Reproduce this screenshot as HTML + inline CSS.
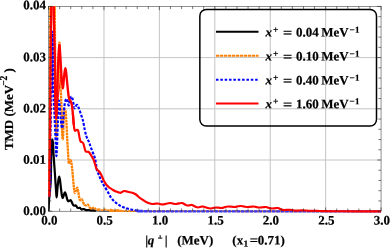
<!DOCTYPE html>
<html><head><meta charset="utf-8"><title>plot</title>
<style>html,body{margin:0;padding:0;background:#fff;}body{width:390px;height:248px;overflow:hidden;position:relative;font-family:"Liberation Serif",serif;}</style></head>
<body>
<svg width="390" height="248" viewBox="0 0 390 248" style="position:absolute;left:0;top:0;will-change:transform;opacity:0.999">
<defs><clipPath id="cp"><rect x="48.30" y="6.20" width="333.00" height="207.10"/></clipPath></defs>
<line x1="103.97" y1="6.40" x2="103.97" y2="211.20" stroke="#c4c4c4" stroke-width="1"/>
<line x1="159.38" y1="6.40" x2="159.38" y2="211.20" stroke="#c4c4c4" stroke-width="1"/>
<line x1="214.80" y1="6.40" x2="214.80" y2="211.20" stroke="#c4c4c4" stroke-width="1"/>
<line x1="270.22" y1="6.40" x2="270.22" y2="211.20" stroke="#c4c4c4" stroke-width="1"/>
<line x1="325.63" y1="6.40" x2="325.63" y2="211.20" stroke="#c4c4c4" stroke-width="1"/>
<line x1="48.55" y1="160.00" x2="381.05" y2="160.00" stroke="#c4c4c4" stroke-width="1"/>
<line x1="48.55" y1="108.80" x2="381.05" y2="108.80" stroke="#c4c4c4" stroke-width="1"/>
<line x1="48.55" y1="57.60" x2="381.05" y2="57.60" stroke="#c4c4c4" stroke-width="1"/>
<rect x="48.55" y="6.40" width="332.50" height="204.80" fill="none" stroke="#222" stroke-width="0.5"/>
<g clip-path="url(#cp)" fill="none" stroke-linejoin="round">
<path d="M48.60 211.00 C48.65 209.67 48.77 205.50 48.90 203.00 C49.03 200.50 49.22 198.17 49.40 196.00 C49.58 193.83 49.80 192.17 50.00 190.00 C50.20 187.83 50.45 185.50 50.60 183.00 C50.75 180.50 50.83 178.00 50.90 175.00 C50.97 172.00 51.00 168.33 51.05 165.00 C51.10 161.67 51.12 158.00 51.20 155.00 C51.28 152.00 51.37 149.25 51.50 147.00 C51.63 144.75 51.85 142.77 52.00 141.50 C52.15 140.23 52.27 139.40 52.40 139.40 C52.53 139.40 52.67 140.23 52.80 141.50 C52.93 142.77 53.07 144.75 53.20 147.00 C53.33 149.25 53.42 152.00 53.60 155.00 C53.78 158.00 54.07 161.67 54.30 165.00 C54.53 168.33 54.77 171.50 55.00 175.00 C55.23 178.50 55.50 183.00 55.70 186.00 C55.90 189.00 56.05 191.12 56.20 193.00 C56.35 194.88 56.45 197.30 56.60 197.30 C56.75 197.30 56.92 194.88 57.10 193.00 C57.28 191.12 57.48 188.17 57.70 186.00 C57.92 183.83 58.15 181.58 58.40 180.00 C58.65 178.42 58.93 176.50 59.20 176.50 C59.47 176.50 59.73 178.25 60.00 180.00 C60.27 181.75 60.50 184.50 60.80 187.00 C61.10 189.50 61.47 193.17 61.80 195.00 C62.13 196.83 62.47 198.00 62.80 198.00 C63.13 198.00 63.43 195.93 63.80 195.00 C64.17 194.07 64.60 192.32 65.00 192.40 C65.40 192.48 65.82 194.32 66.20 195.50 C66.58 196.68 66.95 198.55 67.30 199.50 C67.65 200.45 67.93 200.98 68.30 201.20 C68.67 201.42 69.08 200.95 69.50 200.80 C69.92 200.65 70.33 199.88 70.80 200.30 C71.27 200.72 71.88 202.48 72.30 203.30 C72.72 204.12 72.93 204.80 73.30 205.20 C73.67 205.60 74.08 205.67 74.50 205.70 C74.92 205.73 75.42 205.22 75.80 205.40 C76.18 205.58 76.50 206.38 76.80 206.80 C77.10 207.22 77.28 207.70 77.60 207.90 C77.92 208.10 78.33 208.02 78.70 208.00 C79.07 207.98 79.45 207.67 79.80 207.80 C80.15 207.93 80.50 208.53 80.80 208.80 C81.10 209.07 81.27 209.33 81.60 209.40 C81.93 209.47 82.40 209.25 82.80 209.20 C83.20 209.15 83.55 208.98 84.00 209.10 C84.45 209.22 85.00 209.72 85.50 209.90 C86.00 210.08 86.42 210.18 87.00 210.20 C87.58 210.22 88.33 209.97 89.00 210.00 C89.67 210.03 89.83 210.30 91.00 210.40 C92.17 210.50 95.17 210.57 96.00 210.60" stroke="#000" stroke-width="2.2"/>
<path d="M96.00 210.60 C98.33 210.68 101.00 210.97 110.00 211.10 C119.00 211.22 104.83 211.31 150.00 211.35 C195.17 211.39 342.50 211.35 381.00 211.35" stroke="#000" stroke-width="0.7"/>
<path d="M49.20 196.50 C49.22 193.75 49.25 187.75 49.30 180.00 C49.35 172.25 49.42 161.67 49.50 150.00 C49.58 138.33 49.71 123.33 49.80 110.00 C49.89 96.67 49.98 85.00 50.05 70.00 C50.12 55.00 50.16 38.33 50.20 20.00 C50.24 1.67 49.92 -3.33 50.30 -40.00 C50.68 -76.67 51.76 -200.00 52.50 -200.00 C53.24 -200.00 54.36 -76.67 54.75 -40.00 C55.14 -3.33 54.77 3.33 54.85 20.00 C54.93 36.67 55.08 48.33 55.20 60.00 C55.33 71.67 55.48 81.67 55.60 90.00 C55.72 98.33 55.82 104.17 55.90 110.00 C55.98 115.83 56.02 120.67 56.10 125.00 C56.18 129.33 56.28 136.83 56.40 136.00 C56.52 135.17 56.67 125.17 56.80 120.00 C56.93 114.83 57.07 110.00 57.20 105.00 C57.33 100.00 57.43 95.83 57.60 90.00 C57.77 84.17 58.00 75.83 58.20 70.00 C58.40 64.17 58.60 59.55 58.80 55.00 C59.00 50.45 59.20 41.53 59.40 42.70 C59.60 43.87 59.80 54.95 60.00 62.00 C60.20 69.05 60.43 79.50 60.60 85.00 C60.77 90.50 60.83 90.83 61.00 95.00 C61.17 99.17 61.45 105.00 61.60 110.00 C61.75 115.00 61.80 121.00 61.90 125.00 C62.00 129.00 62.07 131.57 62.20 134.00 C62.33 136.43 62.53 139.60 62.70 139.60 C62.87 139.60 63.07 136.43 63.20 134.00 C63.33 131.57 63.40 127.83 63.50 125.00 C63.60 122.17 63.65 119.28 63.80 117.00 C63.95 114.72 64.18 112.55 64.40 111.30 C64.62 110.05 64.87 109.30 65.10 109.50 C65.33 109.70 65.60 110.75 65.80 112.50 C66.00 114.25 66.13 117.08 66.30 120.00 C66.47 122.92 66.62 126.33 66.80 130.00 C66.98 133.67 67.20 138.33 67.40 142.00 C67.60 145.67 67.77 148.45 68.00 152.00 C68.23 155.55 68.50 161.72 68.80 163.30 C69.10 164.88 69.48 162.00 69.80 161.50 C70.12 161.00 70.40 159.88 70.70 160.30 C71.00 160.72 71.32 162.22 71.60 164.00 C71.88 165.78 72.13 168.33 72.40 171.00 C72.67 173.67 72.93 177.08 73.20 180.00 C73.47 182.92 73.73 186.33 74.00 188.50 C74.27 190.67 74.47 192.67 74.80 193.00 C75.13 193.33 75.58 191.37 76.00 190.50 C76.42 189.63 76.92 187.55 77.30 187.80 C77.68 188.05 77.98 190.38 78.30 192.00 C78.62 193.62 78.92 196.17 79.20 197.50 C79.48 198.83 79.70 199.58 80.00 200.00 C80.30 200.42 80.67 200.08 81.00 200.00 C81.33 199.92 81.63 199.08 82.00 199.50 C82.37 199.92 82.78 201.58 83.20 202.50 C83.62 203.42 83.95 204.53 84.50 205.00 C85.05 205.47 85.92 205.33 86.50 205.30 C87.08 205.27 87.50 204.47 88.00 204.80 C88.50 205.13 89.00 206.63 89.50 207.30 C90.00 207.97 90.50 208.63 91.00 208.80 C91.50 208.97 92.00 208.47 92.50 208.30 C93.00 208.13 93.42 207.63 94.00 207.80 C94.58 207.97 95.33 208.97 96.00 209.30 C96.67 209.63 97.33 209.80 98.00 209.80 C98.67 209.80 99.67 209.38 100.00 209.30" stroke="#ff8000" stroke-width="2.3" stroke-dasharray="2.6 0.55"/>
<path d="M98.00 209.80 C98.33 209.72 99.33 209.23 100.00 209.30 C100.67 209.37 101.17 210.18 102.00 210.20 C102.83 210.22 104.00 209.40 105.00 209.40 C106.00 209.40 107.00 210.17 108.00 210.20 C109.00 210.23 110.00 209.58 111.00 209.60 C112.00 209.62 112.83 210.25 114.00 210.30 C115.17 210.35 116.67 209.82 118.00 209.90 C119.33 209.98 120.00 210.60 122.00 210.80 C124.00 211.00 86.83 211.01 130.00 211.10 C173.17 211.19 339.17 211.31 381.00 211.35" stroke="#ff8a14" stroke-width="1.8" stroke-dasharray="2.6 0.55"/>
<path d="M49.30 196.50 C49.38 195.42 49.63 192.42 49.80 190.00 C49.97 187.58 50.22 187.00 50.30 182.00 C50.38 177.00 50.30 167.00 50.30 160.00 C50.30 153.00 50.23 146.33 50.30 140.00 C50.37 133.67 50.57 127.67 50.70 122.00 C50.83 116.33 50.98 111.00 51.10 106.00 C51.22 101.00 51.23 97.67 51.40 92.00 C51.57 86.33 51.92 78.17 52.10 72.00 C52.28 65.83 52.33 61.75 52.45 55.00 C52.57 48.25 52.68 31.50 52.80 31.50 C52.92 31.50 53.07 48.25 53.15 55.00 C53.23 61.75 53.22 65.83 53.30 72.00 C53.38 78.17 53.47 86.33 53.60 92.00 C53.73 97.67 53.92 101.33 54.10 106.00 C54.28 110.67 54.52 115.67 54.70 120.00 C54.88 124.33 55.02 127.83 55.20 132.00 C55.38 136.17 55.60 141.00 55.80 145.00 C56.00 149.00 56.20 155.67 56.40 156.00 C56.60 156.33 56.82 151.00 57.00 147.00 C57.18 143.00 57.35 136.50 57.50 132.00 C57.65 127.50 57.78 124.00 57.90 120.00 C58.02 116.00 58.03 111.25 58.20 108.00 C58.37 104.75 58.65 100.83 58.90 100.50 C59.15 100.17 59.43 103.42 59.70 106.00 C59.97 108.58 60.22 112.83 60.50 116.00 C60.78 119.17 61.12 122.95 61.40 125.00 C61.68 127.05 61.93 128.63 62.20 128.30 C62.47 127.97 62.70 126.05 63.00 123.00 C63.30 119.95 63.67 113.42 64.00 110.00 C64.33 106.58 64.62 104.37 65.00 102.50 C65.38 100.63 65.87 98.97 66.30 98.80 C66.73 98.63 67.20 100.38 67.60 101.50 C68.00 102.62 68.30 105.75 68.70 105.50 C69.10 105.25 69.55 101.50 70.00 100.00 C70.45 98.50 70.95 96.58 71.40 96.50 C71.85 96.42 72.32 98.08 72.70 99.50 C73.08 100.92 73.37 103.53 73.70 105.00 C74.03 106.47 74.32 108.13 74.70 108.30 C75.08 108.47 75.58 106.55 76.00 106.00 C76.42 105.45 76.78 104.75 77.20 105.00 C77.62 105.25 78.03 106.42 78.50 107.50 C78.97 108.58 79.42 109.83 80.00 111.50 C80.58 113.17 81.47 115.83 82.00 117.50 C82.53 119.17 82.73 119.42 83.20 121.50 C83.67 123.58 84.28 127.58 84.80 130.00 C85.32 132.42 85.83 134.45 86.30 136.00 C86.77 137.55 87.17 138.35 87.60 139.30 C88.03 140.25 88.52 140.83 88.90 141.70 C89.28 142.57 89.57 143.53 89.90 144.50 C90.23 145.47 90.38 146.08 90.90 147.50 C91.42 148.92 92.32 151.17 93.00 153.00 C93.68 154.83 94.50 156.67 95.00 158.50 C95.50 160.33 95.68 162.08 96.00 164.00 C96.32 165.92 96.48 168.33 96.90 170.00 C97.32 171.67 97.97 172.67 98.50 174.00 C99.03 175.33 99.52 176.67 100.10 178.00 C100.68 179.33 101.35 180.75 102.00 182.00 C102.65 183.25 103.08 183.95 104.00 185.50 C104.92 187.05 106.33 189.28 107.50 191.30 C108.67 193.32 109.75 195.82 111.00 197.60 C112.25 199.38 113.50 200.67 115.00 202.00 C116.50 203.33 118.33 204.62 120.00 205.60 C121.67 206.58 123.17 207.25 125.00 207.90 C126.83 208.55 129.17 209.08 131.00 209.50 C132.83 209.92 135.17 210.25 136.00 210.40" stroke="#0000ff" stroke-width="2.15" stroke-dasharray="2.8 1.5"/>
<path d="M52.80 32.00 C52.80 35.00 52.79 44.33 52.78 50.00 C52.77 55.67 52.75 61.00 52.72 66.00 C52.69 71.00 52.65 75.67 52.60 80.00 C52.55 84.33 52.43 90.00 52.40 92.00" stroke="#0000ff" stroke-width="0.75"/>
<path d="M136.00 210.40 C137.00 210.50 138.00 210.84 142.00 211.00 C146.00 211.16 120.17 211.29 160.00 211.35 C199.83 211.41 344.17 211.35 381.00 211.35" stroke="#3a3af2" stroke-width="2.4" stroke-dasharray="3.7 0.7"/>
<path d="M49.20 196.50 C49.21 193.75 49.22 185.75 49.25 180.00 C49.28 174.25 49.29 167.67 49.40 162.00 C49.51 156.33 49.78 152.17 49.90 146.00 C50.02 139.83 50.03 132.67 50.10 125.00 C50.17 117.33 50.22 109.17 50.30 100.00 C50.38 90.83 50.45 80.83 50.55 70.00 C50.65 59.17 50.78 45.00 50.90 35.00 C51.02 25.00 51.16 22.50 51.25 10.00 C51.34 -2.50 51.24 -5.00 51.45 -40.00 C51.66 -75.00 52.14 -200.00 52.50 -200.00 C52.86 -200.00 53.38 -75.00 53.60 -40.00 C53.82 -5.00 53.68 -2.50 53.80 10.00 C53.92 22.50 54.12 26.67 54.30 35.00 C54.48 43.33 54.78 51.67 54.90 60.00 C55.02 68.33 54.93 78.33 55.00 85.00 C55.07 91.67 55.18 95.50 55.30 100.00 C55.42 104.50 55.55 108.92 55.70 112.00 C55.85 115.08 56.03 118.50 56.20 118.50 C56.37 118.50 56.57 115.08 56.70 112.00 C56.83 108.92 56.88 104.00 57.00 100.00 C57.12 96.00 57.28 92.00 57.40 88.00 C57.52 84.00 57.58 79.67 57.70 76.00 C57.82 72.33 57.97 69.33 58.10 66.00 C58.23 62.67 58.28 59.50 58.50 56.00 C58.72 52.50 59.12 45.33 59.40 45.00 C59.68 44.67 59.93 50.17 60.20 54.00 C60.47 57.83 60.73 63.67 61.00 68.00 C61.27 72.33 61.48 76.57 61.80 80.00 C62.12 83.43 62.57 88.60 62.90 88.60 C63.23 88.60 63.52 82.77 63.80 80.00 C64.08 77.23 64.33 73.97 64.60 72.00 C64.87 70.03 65.15 68.20 65.40 68.20 C65.65 68.20 65.90 70.53 66.10 72.00 C66.30 73.47 66.40 75.00 66.60 77.00 C66.80 79.00 67.07 81.67 67.30 84.00 C67.53 86.33 67.77 88.92 68.00 91.00 C68.23 93.08 68.45 95.07 68.70 96.50 C68.95 97.93 69.23 98.88 69.50 99.60 C69.77 100.32 70.02 100.32 70.30 100.80 C70.58 101.28 70.92 101.63 71.20 102.50 C71.48 103.37 71.73 104.25 72.00 106.00 C72.27 107.75 72.50 109.83 72.80 113.00 C73.10 116.17 73.63 123.00 73.80 125.00" stroke="#ff0000" stroke-width="2.35"/>
<path d="M72.80 113.00 C72.97 115.00 73.48 122.08 73.80 125.00 C74.12 127.92 74.37 129.58 74.70 130.50 C75.03 131.42 75.43 130.62 75.80 130.50 C76.17 130.38 76.52 129.80 76.90 129.80 C77.28 129.80 77.77 129.80 78.10 130.50 C78.43 131.20 78.65 132.75 78.90 134.00 C79.15 135.25 79.37 136.87 79.60 138.00 C79.83 139.13 80.07 140.17 80.30 140.80 C80.53 141.43 80.68 141.55 81.00 141.80 C81.32 142.05 81.83 142.07 82.20 142.30 C82.57 142.53 82.93 142.75 83.20 143.20 C83.47 143.65 83.58 144.23 83.80 145.00 C84.02 145.77 84.27 146.92 84.50 147.80 C84.73 148.68 84.97 149.67 85.20 150.30 C85.43 150.93 85.57 151.35 85.90 151.60 C86.23 151.85 86.78 151.77 87.20 151.80 C87.62 151.83 88.00 151.60 88.40 151.80 C88.80 152.00 89.18 152.47 89.60 153.00 C90.02 153.53 90.45 154.25 90.90 155.00 C91.35 155.75 91.83 156.67 92.30 157.50 C92.77 158.33 93.25 158.92 93.70 160.00 C94.15 161.08 94.58 162.67 95.00 164.00 C95.42 165.33 95.83 167.03 96.20 168.00 C96.57 168.97 96.87 169.38 97.20 169.80 C97.53 170.22 97.82 170.13 98.20 170.50 C98.58 170.87 99.07 171.42 99.50 172.00 C99.93 172.58 100.30 173.08 100.80 174.00 C101.30 174.92 101.97 176.33 102.50 177.50 C103.03 178.67 103.25 179.67 104.00 181.00 C104.75 182.33 106.00 184.33 107.00 185.50 C108.00 186.67 109.00 187.25 110.00 188.00 C111.00 188.75 112.00 189.42 113.00 190.00 C114.00 190.58 114.83 191.03 116.00 191.50 C117.17 191.97 119.00 192.72 120.00 192.80 C121.00 192.88 121.33 192.30 122.00 192.00 C122.67 191.70 123.17 191.08 124.00 191.00 C124.83 190.92 126.00 191.28 127.00 191.50 C128.00 191.72 129.00 192.05 130.00 192.30 C131.00 192.55 132.00 192.63 133.00 193.00 C134.00 193.37 134.83 193.67 136.00 194.50 C137.17 195.33 138.83 197.08 140.00 198.00 C141.17 198.92 142.00 199.33 143.00 200.00 C144.00 200.67 145.00 201.47 146.00 202.00 C147.00 202.53 148.00 202.87 149.00 203.20 C150.00 203.53 151.00 203.90 152.00 204.00 C153.00 204.10 154.00 203.88 155.00 203.80 C156.00 203.72 157.00 203.43 158.00 203.50 C159.00 203.57 160.17 204.03 161.00 204.20 C161.83 204.37 162.17 204.57 163.00 204.50 C163.83 204.43 164.83 204.05 166.00 203.80 C167.17 203.55 168.83 203.03 170.00 203.00 C171.17 202.97 172.00 203.43 173.00 203.60 C174.00 203.77 175.00 204.03 176.00 204.00 C177.00 203.97 178.00 203.57 179.00 203.40 C180.00 203.23 181.00 202.82 182.00 203.00 C183.00 203.18 184.17 204.08 185.00 204.50 C185.83 204.92 186.17 205.38 187.00 205.50 C187.83 205.62 189.17 205.28 190.00 205.20 C190.83 205.12 191.17 204.78 192.00 205.00 C192.83 205.22 194.00 206.08 195.00 206.50 C196.00 206.92 197.00 207.45 198.00 207.50 C199.00 207.55 200.17 206.97 201.00 206.80 C201.83 206.63 202.00 206.33 203.00 206.50 C204.00 206.67 205.83 207.47 207.00 207.80 C208.17 208.13 209.00 208.47 210.00 208.50 C211.00 208.53 212.00 208.17 213.00 208.00 C214.00 207.83 215.00 207.53 216.00 207.50 C217.00 207.47 218.00 207.72 219.00 207.80 C220.00 207.88 221.00 208.13 222.00 208.00 C223.00 207.87 224.00 207.25 225.00 207.00 C226.00 206.75 226.83 206.53 228.00 206.50 C229.17 206.47 230.83 206.72 232.00 206.80 C233.17 206.88 234.00 207.08 235.00 207.00 C236.00 206.92 237.00 206.47 238.00 206.30 C239.00 206.13 239.83 205.93 241.00 206.00 C242.17 206.07 243.83 206.53 245.00 206.70 C246.17 206.87 247.00 207.00 248.00 207.00 C249.00 207.00 250.00 206.78 251.00 206.70 C252.00 206.62 253.00 206.42 254.00 206.50 C255.00 206.58 256.00 207.03 257.00 207.20 C258.00 207.37 259.00 207.50 260.00 207.50 C261.00 207.50 262.00 207.28 263.00 207.20 C264.00 207.12 265.00 206.87 266.00 207.00 C267.00 207.13 268.00 207.75 269.00 208.00 C270.00 208.25 271.00 208.47 272.00 208.50 C273.00 208.53 274.00 208.28 275.00 208.20 C276.00 208.12 277.00 207.82 278.00 208.00 C279.00 208.18 280.00 208.97 281.00 209.30 C282.00 209.63 282.50 209.92 284.00 210.00 C285.50 210.08 288.00 209.70 290.00 209.80 C292.00 209.90 294.00 210.52 296.00 210.60 C298.00 210.68 299.67 210.27 302.00 210.30 C304.33 210.33 307.00 210.68 310.00 210.80 C313.00 210.92 315.00 210.92 320.00 211.00 C325.00 211.08 329.83 211.23 340.00 211.30 C350.17 211.37 374.17 211.38 381.00 211.40" stroke="#ff0000" stroke-width="2.15"/>
<path d="M60.50 76.00 C60.43 77.00 60.28 80.00 60.10 82.00 C59.92 84.00 59.65 86.00 59.40 88.00 C59.15 90.00 58.82 92.00 58.60 94.00 C58.38 96.00 58.18 99.00 58.10 100.00" stroke="#ff0000" stroke-width="0.9"/>
</g>
<path d="M48.55 211.20 v-3.80 M48.55 6.40 v3.80 M59.63 211.20 v-2.70 M59.63 6.40 v2.70 M70.72 211.20 v-2.70 M70.72 6.40 v2.70 M81.80 211.20 v-2.70 M81.80 6.40 v2.70 M92.88 211.20 v-2.70 M92.88 6.40 v2.70 M103.97 211.20 v-3.80 M103.97 6.40 v3.80 M115.05 211.20 v-2.70 M115.05 6.40 v2.70 M126.13 211.20 v-2.70 M126.13 6.40 v2.70 M137.22 211.20 v-2.70 M137.22 6.40 v2.70 M148.30 211.20 v-2.70 M148.30 6.40 v2.70 M159.38 211.20 v-3.80 M159.38 6.40 v3.80 M170.47 211.20 v-2.70 M170.47 6.40 v2.70 M181.55 211.20 v-2.70 M181.55 6.40 v2.70 M192.63 211.20 v-2.70 M192.63 6.40 v2.70 M203.72 211.20 v-2.70 M203.72 6.40 v2.70 M214.80 211.20 v-3.80 M214.80 6.40 v3.80 M225.88 211.20 v-2.70 M225.88 6.40 v2.70 M236.97 211.20 v-2.70 M236.97 6.40 v2.70 M248.05 211.20 v-2.70 M248.05 6.40 v2.70 M259.13 211.20 v-2.70 M259.13 6.40 v2.70 M270.22 211.20 v-3.80 M270.22 6.40 v3.80 M281.30 211.20 v-2.70 M281.30 6.40 v2.70 M292.38 211.20 v-2.70 M292.38 6.40 v2.70 M303.47 211.20 v-2.70 M303.47 6.40 v2.70 M314.55 211.20 v-2.70 M314.55 6.40 v2.70 M325.63 211.20 v-3.80 M325.63 6.40 v3.80 M336.72 211.20 v-2.70 M336.72 6.40 v2.70 M347.80 211.20 v-2.70 M347.80 6.40 v2.70 M358.88 211.20 v-2.70 M358.88 6.40 v2.70 M369.97 211.20 v-2.70 M369.97 6.40 v2.70 M381.05 211.20 v-3.80 M381.05 6.40 v3.80 M48.55 211.20 h3.80 M381.05 211.20 h-3.80 M48.55 200.96 h2.70 M381.05 200.96 h-2.70 M48.55 190.72 h2.70 M381.05 190.72 h-2.70 M48.55 180.48 h2.70 M381.05 180.48 h-2.70 M48.55 170.24 h2.70 M381.05 170.24 h-2.70 M48.55 160.00 h3.80 M381.05 160.00 h-3.80 M48.55 149.76 h2.70 M381.05 149.76 h-2.70 M48.55 139.52 h2.70 M381.05 139.52 h-2.70 M48.55 129.28 h2.70 M381.05 129.28 h-2.70 M48.55 119.04 h2.70 M381.05 119.04 h-2.70 M48.55 108.80 h3.80 M381.05 108.80 h-3.80 M48.55 98.56 h2.70 M381.05 98.56 h-2.70 M48.55 88.32 h2.70 M381.05 88.32 h-2.70 M48.55 78.08 h2.70 M381.05 78.08 h-2.70 M48.55 67.84 h2.70 M381.05 67.84 h-2.70 M48.55 57.60 h3.80 M381.05 57.60 h-3.80 M48.55 47.36 h2.70 M381.05 47.36 h-2.70 M48.55 37.12 h2.70 M381.05 37.12 h-2.70 M48.55 26.88 h2.70 M381.05 26.88 h-2.70 M48.55 16.64 h2.70 M381.05 16.64 h-2.70 M48.55 6.40 h3.80 M381.05 6.40 h-3.80" stroke="#222" stroke-width="0.6" fill="none"/>
<rect x="199.85" y="9.4" width="176.65" height="116.7" rx="6.5" ry="6.5" fill="none" stroke="#000" stroke-width="1.5"/>
<line x1="216" y1="31.8" x2="258.5" y2="31.8" stroke="#000" stroke-width="2"/>
<line x1="216" y1="55.8" x2="258.5" y2="55.8" stroke="#ff8000" stroke-width="2" stroke-dasharray="3.3 0.7"/>
<line x1="216" y1="79.8" x2="258.5" y2="79.8" stroke="#0000ff" stroke-width="2" stroke-dasharray="2.5 1.85"/>
<line x1="216" y1="103.4" x2="258.5" y2="103.4" stroke="#ff0000" stroke-width="2"/>
<g font-family="Liberation Serif, serif" font-weight="bold" font-size="13" fill="#000" stroke="#000" stroke-width="0.2">
<text transform="translate(265.60,36.60) rotate(0.03) scale(1.000,1.000)" font-style="italic">x</text>
<text transform="translate(273.10,32.70) rotate(0.03) scale(1.000,1.000)" font-size="9.5">+</text>
<text transform="translate(283.00,37.10) rotate(0.03) scale(1.250,1.000)">=</text>
<text transform="translate(295.90,36.60) rotate(0.03) scale(1.000,1.000)">0.04</text>
<text transform="translate(321.30,36.60) rotate(0.03) scale(1.000,1.000)">MeV</text>
<text transform="translate(349.40,32.70) rotate(0.03) scale(1.000,1.000)" font-size="9">−</text>
<text transform="translate(354.90,32.70) rotate(0.03) scale(1.000,1.000)" font-size="9">1</text>
<text transform="translate(265.60,60.60) rotate(0.03) scale(1.000,1.000)" font-style="italic">x</text>
<text transform="translate(273.10,56.70) rotate(0.03) scale(1.000,1.000)" font-size="9.5">+</text>
<text transform="translate(283.00,61.10) rotate(0.03) scale(1.250,1.000)">=</text>
<text transform="translate(295.90,60.60) rotate(0.03) scale(1.000,1.000)">0.10</text>
<text transform="translate(321.30,60.60) rotate(0.03) scale(1.000,1.000)">MeV</text>
<text transform="translate(349.40,56.70) rotate(0.03) scale(1.000,1.000)" font-size="9">−</text>
<text transform="translate(354.90,56.70) rotate(0.03) scale(1.000,1.000)" font-size="9">1</text>
<text transform="translate(265.60,84.60) rotate(0.03) scale(1.000,1.000)" font-style="italic">x</text>
<text transform="translate(273.10,80.70) rotate(0.03) scale(1.000,1.000)" font-size="9.5">+</text>
<text transform="translate(283.00,85.10) rotate(0.03) scale(1.250,1.000)">=</text>
<text transform="translate(295.90,84.60) rotate(0.03) scale(1.000,1.000)">0.40</text>
<text transform="translate(321.30,84.60) rotate(0.03) scale(1.000,1.000)">MeV</text>
<text transform="translate(349.40,80.70) rotate(0.03) scale(1.000,1.000)" font-size="9">−</text>
<text transform="translate(354.90,80.70) rotate(0.03) scale(1.000,1.000)" font-size="9">1</text>
<text transform="translate(265.60,108.20) rotate(0.03) scale(1.000,1.000)" font-style="italic">x</text>
<text transform="translate(273.10,104.30) rotate(0.03) scale(1.000,1.000)" font-size="9.5">+</text>
<text transform="translate(283.00,108.70) rotate(0.03) scale(1.250,1.000)">=</text>
<text transform="translate(295.90,108.20) rotate(0.03) scale(1.000,1.000)">1.60</text>
<text transform="translate(321.30,108.20) rotate(0.03) scale(1.000,1.000)">MeV</text>
<text transform="translate(349.40,104.30) rotate(0.03) scale(1.000,1.000)" font-size="9">−</text>
<text transform="translate(354.90,104.30) rotate(0.03) scale(1.000,1.000)" font-size="9">1</text>
<text transform="translate(45.90,214.90) rotate(0.03) scale(1.000,1.000)" text-anchor="end">0.00</text>
<text transform="translate(45.90,163.70) rotate(0.03) scale(1.000,1.000)" text-anchor="end">0.01</text>
<text transform="translate(45.90,112.50) rotate(0.03) scale(1.000,1.000)" text-anchor="end">0.02</text>
<text transform="translate(45.90,61.30) rotate(0.03) scale(1.000,1.000)" text-anchor="end">0.03</text>
<text transform="translate(45.90,9.20) rotate(0.03) scale(1.000,1.000)" text-anchor="end">0.04</text>
<text transform="translate(49.25,224.60) rotate(0.03) scale(1.000,1.000)" text-anchor="middle">0.0</text>
<text transform="translate(104.67,224.60) rotate(0.03) scale(1.000,1.000)" text-anchor="middle">0.5</text>
<text transform="translate(160.08,224.60) rotate(0.03) scale(1.000,1.000)" text-anchor="middle">1.0</text>
<text transform="translate(215.50,224.60) rotate(0.03) scale(1.000,1.000)" text-anchor="middle">1.5</text>
<text transform="translate(270.92,224.60) rotate(0.03) scale(1.000,1.000)" text-anchor="middle">2.0</text>
<text transform="translate(326.33,224.60) rotate(0.03) scale(1.000,1.000)" text-anchor="middle">2.5</text>
<text transform="translate(381.75,224.60) rotate(0.03) scale(1.000,1.000)" text-anchor="middle">3.0</text>
<text transform="translate(145.20,244.40) rotate(0.03) scale(1.000,1.000)">|</text>
<text transform="translate(147.80,244.40) rotate(0.03) scale(1.000,1.000)" font-style="italic">q</text>
<path d="M158 238.1 h4.3 M160.15 238.1 v-3" stroke="#000" stroke-width="1" fill="none"/>
<text transform="translate(164.70,244.40) rotate(0.03) scale(1.000,1.000)">|</text>
<text transform="translate(177.20,244.40) rotate(0.03) scale(1.000,1.000)">(MeV)</text>
<text transform="translate(232.30,244.40) rotate(0.03) scale(1.000,1.000)">(x</text>
<text transform="translate(243.60,246.80) rotate(0.03) scale(1.000,1.000)" font-size="9.5">1</text>
<text transform="translate(249.80,244.60) rotate(0.03) scale(1.120,1.000)">=</text>
<text transform="translate(257.70,244.40) rotate(0.03) scale(1.000,1.000)">0.71)</text>
<text transform="translate(12.8,150.1) rotate(-90) scale(1,1.0)">TMD (MeV</text>
<text transform="translate(7.0,85.8) rotate(-90) scale(1,1.0)" font-size="9.5">−2</text>
<text transform="translate(12.8,72.4) rotate(-90) scale(1,1.0)">)</text>
</g>
</svg>
</body></html>
